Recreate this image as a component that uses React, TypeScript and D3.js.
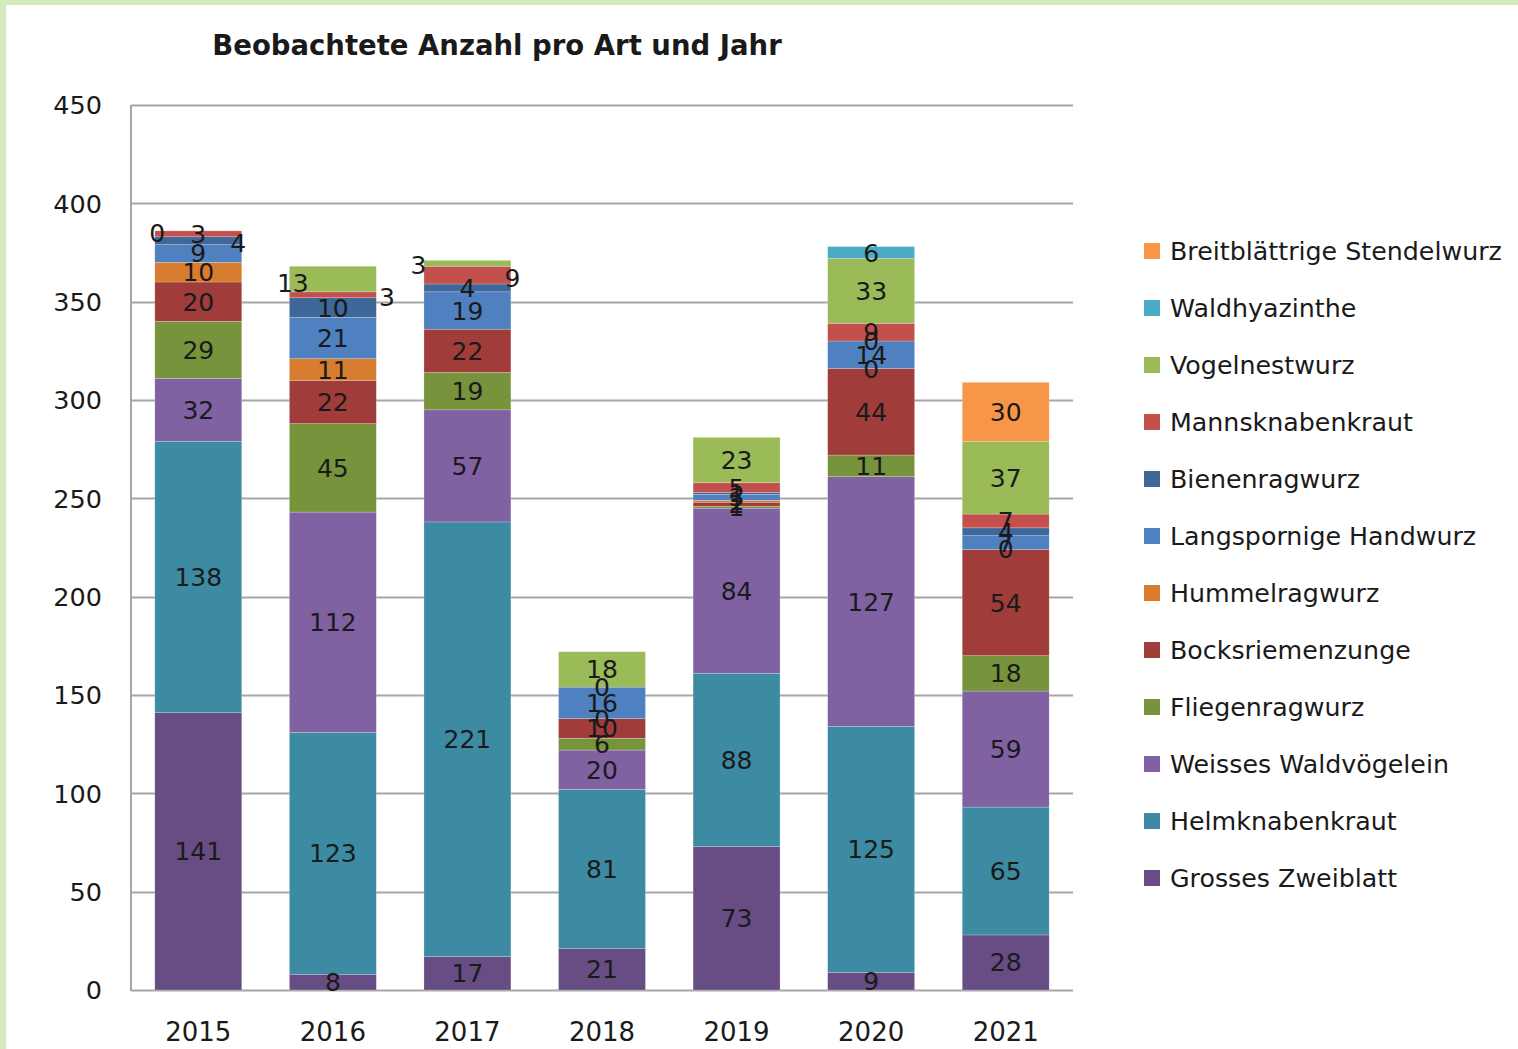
import React, { useEffect, useRef } from 'react';
import * as d3 from 'd3';

const years = ['2015', '2016', '2017', '2018', '2019', '2020', '2021'];

// bottom to top of each stack
const species = [
  'Grosses Zweiblatt',
  'Helmknabenkraut',
  'Weisses Waldvögelein',
  'Fliegenragwurz',
  'Bocksriemenzunge',
  'Hummelragwurz',
  'Langspornige Handwurz',
  'Bienenragwurz',
  'Mannsknabenkraut',
  'Vogelnestwurz',
  'Waldhyazinthe',
  'Breitblättrige Stendelwurz',
];

const colors = [
  '#684c84', '#3c8ba2', '#8062a3', '#77943c', '#a03d3a', '#d87c30',
  '#4f80bf', '#3f6799', '#c4504d', '#9bbb58', '#4aacc6', '#f79646',
];

// null = no value (no label shown)
const grossesZweiblatt = [141, 8, 17, 21, 73, 9, 28];
const helmknabenkraut = [138, 123, 221, 81, 88, 125, 65];
const weissesWaldvoegelein = [32, 112, 57, 20, 84, 127, 59];
const fliegenragwurz = [29, 45, 19, 6, 1, 11, 18];
const bocksriemenzunge = [20, 22, 22, 10, 2, 44, 54];
const hummelragwurz = [10, 11, null, 0, 1, 0, 0];
const langspornigeHandwurz = [9, 21, 19, 16, 3, 14, 7];
const bienenragwurz = [4, 10, 4, 0, 1, 0, 4];
const mannsknabenkraut = [3, 3, 9, null, 5, 9, 7];
const vogelnestwurz = [0, 13, 3, 18, 23, 33, 37];
const waldhyazinthe = [null, null, null, null, null, 6, null];
const breitblaettrige = [null, null, null, null, null, null, 30];

const series = [
  grossesZweiblatt, helmknabenkraut, weissesWaldvoegelein, fliegenragwurz,
  bocksriemenzunge, hummelragwurz, langspornigeHandwurz, bienenragwurz,
  mannsknabenkraut, vogelnestwurz, waldhyazinthe, breitblaettrige,
];

// labels that were dragged out of the bars: "series|year" -> [dx, dy]
const labelNudge: Record<string, [number, number]> = {
  'Vogelnestwurz|2015': [-41, 2],
  'Bienenragwurz|2015': [40, 2],
  'Vogelnestwurz|2016': [-40, 4],
  'Mannsknabenkraut|2016': [54, 2],
  'Vogelnestwurz|2017': [-49, 2],
  'Mannsknabenkraut|2017': [45, 3],
};

const FONT = '"DejaVu Sans", Verdana, sans-serif';

export default function App() {
  const ref = useRef<SVGSVGElement>(null);

  useEffect(() => {
    const svg = d3.select(ref.current);
    svg.selectAll('*').remove();

    const width = 1518;
    const height = 1049;
    const margin = { left: 131, right: 445, top: 105, bottom: 59 };

    const rows = years.map((y, i) => {
      const r: any = { year: y };
      species.forEach((s, j) => (r[s] = series[j][i] ?? 0));
      return r;
    });
    const stacked = d3.stack<any>().keys(species)(rows);

    const x = d3
      .scaleBand()
      .domain(years)
      .range([margin.left, width - margin.right])
      .paddingInner(0.354)
      .paddingOuter(0.177);
    const y = d3
      .scaleLinear()
      .domain([0, 450])
      .range([height - margin.bottom, margin.top]);

    svg.append('rect').attr('width', width).attr('height', height).attr('fill', '#fff');
    svg.append('rect').attr('width', width).attr('height', 5).attr('fill', '#d4ebbe');
    svg.append('rect').attr('width', 6).attr('height', height).attr('fill', '#d4ebbe');

    // title
    svg
      .append('text')
      .attr('x', 497)
      .attr('y', 55)
      .attr('text-anchor', 'middle')
      .attr('font-family', FONT)
      .attr('font-weight', 'bold')
      .attr('font-size', 27.5)
      .attr('fill', '#1a1a1a')
      .text('Beobachtete Anzahl pro Art und Jahr');

    // gridlines
    const ticks = d3.range(0, 451, 50);
    svg
      .append('g')
      .selectAll('line')
      .data(ticks)
      .join('line')
      .attr('x1', margin.left)
      .attr('x2', width - margin.right)
      .attr('y1', d => Math.round(y(d)) + 0.5)
      .attr('y2', d => Math.round(y(d)) + 0.5)
      .attr('stroke', '#a6a6a6')
      .attr('stroke-width', 2);

    svg
      .append('line')
      .attr('x1', margin.left)
      .attr('x2', margin.left)
      .attr('y1', y(450))
      .attr('y2', y(0) + 1)
      .attr('stroke', '#a6a6a6')
      .attr('stroke-width', 2);

    svg
      .append('g')
      .selectAll('text')
      .data(ticks)
      .join('text')
      .attr('x', 102)
      .attr('y', d => y(d))
      .attr('dy', '0.36em')
      .attr('text-anchor', 'end')
      .attr('font-family', FONT)
      .attr('font-size', 25.5)
      .attr('fill', '#1a1a1a')
      .text(d => d);

    svg
      .append('g')
      .selectAll('text')
      .data(years)
      .join('text')
      .attr('x', d => x(d)! + x.bandwidth() / 2)
      .attr('y', 1041)
      .attr('text-anchor', 'middle')
      .attr('font-family', FONT)
      .attr('font-size', 26)
      .attr('fill', '#1a1a1a')
      .text(d => d);

    // bars
    svg
      .append('g')
      .selectAll('g')
      .data(stacked)
      .join('g')
      .attr('fill', (d, i) => colors[i])
      .selectAll('rect')
      .data(d => d)
      .join('rect')
      .attr('x', d => x(d.data.year)!)
      .attr('width', x.bandwidth())
      .attr('y', d => y(d[1]))
      .attr('height', d => y(d[0]) - y(d[1]))
      .attr('stroke', 'rgba(255,255,255,0.35)')
      .attr('stroke-width', 0.6);

    // data labels
    const labels: { x: number; y: number; t: string }[] = [];
    stacked.forEach((layer, j) => {
      layer.forEach((d, i) => {
        const v = series[j][i];
        if (v === null) return;
        const nudge = labelNudge[`${species[j]}|${years[i]}`] || [0, 0];
        labels.push({
          x: x(years[i])! + x.bandwidth() / 2 + nudge[0],
          y: y((d[0] + d[1]) / 2) + nudge[1],
          t: String(v),
        });
      });
    });
    svg
      .append('g')
      .selectAll('text')
      .data(labels)
      .join('text')
      .attr('x', d => d.x)
      .attr('y', d => d.y)
      .attr('dy', '0.36em')
      .attr('text-anchor', 'middle')
      .attr('font-family', FONT)
      .attr('font-size', 25)
      .attr('fill', '#1a1a1a')
      .text(d => d.t);

    // legend, top entry is last series
    const legendItems = species.map((s, i) => ({ s, c: colors[i] })).reverse();
    const lg = svg
      .append('g')
      .selectAll('g')
      .data(legendItems)
      .join('g')
      .attr('transform', (d, i) => `translate(1144, ${251 + i * 57.0})`);
    lg.append('rect')
      .attr('x', 0)
      .attr('y', -8)
      .attr('width', 16)
      .attr('height', 16)
      .attr('fill', d => d.c);
    lg.append('text')
      .attr('x', 26)
      .attr('dy', '0.36em')
      .attr('font-family', FONT)
      .attr('font-size', 25.3)
      .attr('fill', '#1a1a1a')
      .text(d => d.s);
  }, []);

  return (
    <svg
      ref={ref}
      width={1518}
      height={1049}
      style={{ position: 'absolute', left: 0, top: 0, display: 'block' }}
    />
  );
}
